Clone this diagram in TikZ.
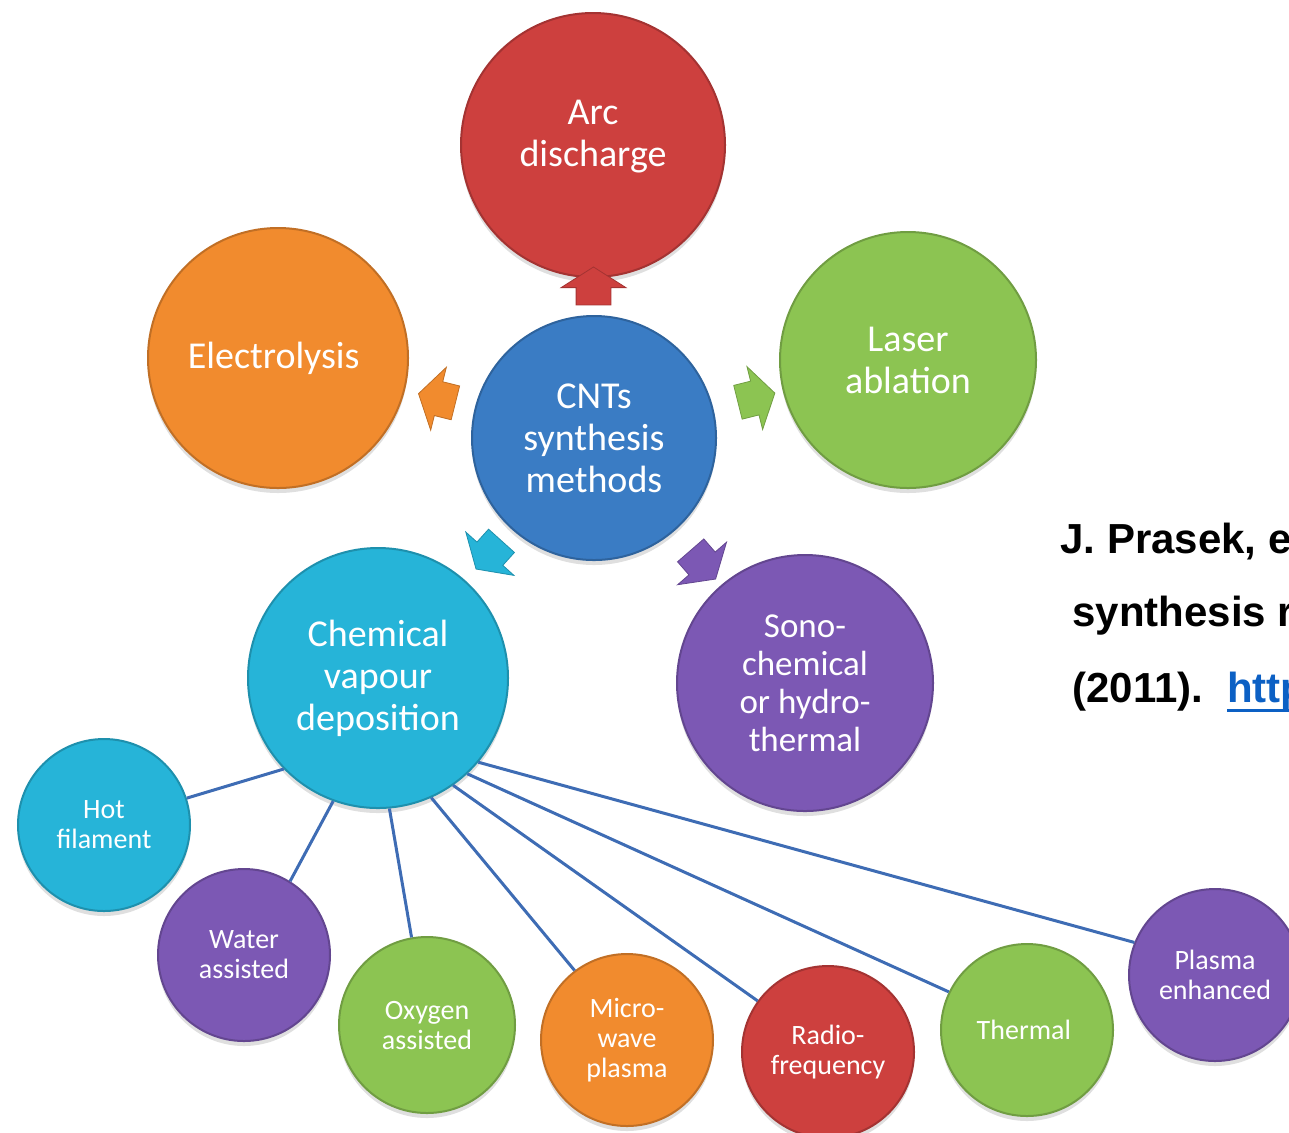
\documentclass[tikz,border=0pt]{standalone}
\usepackage{fontspec}
\setmainfont{Carlito}
\newfontfamily\citefont{Liberation Sans}
\usetikzlibrary{positioning,calc,shapes.arrows,shadows}

\definecolor{arcred}{RGB}{205,64,62}
\definecolor{elecorange}{RGB}{241,139,46}
\definecolor{lasergreen}{RGB}{140,196,82}
\definecolor{cntblue}{RGB}{58,124,196}
\definecolor{cvdcyan}{RGB}{38,180,216}
\definecolor{sonopurple}{RGB}{124,88,180}
\definecolor{wireblue}{RGB}{62,108,180}
\definecolor{linkblue}{RGB}{12,96,196}

\newlength\linkwd
\newcommand\weblink[1]{\settowidth\linkwd{#1}%
	\textcolor{linkblue}{\rlap{\rule[-5pt]{\linkwd}{1.5pt}}#1}}

\begin{document}
\begin{tikzpicture}[x=0.5pt, y=-0.5pt,
	disc/.style = { circle, draw=#1!80!black, fill=#1, line width=1pt,
	text=white, align=center, inner sep=0pt,
	drop shadow={opacity=0.25, shadow xshift=0pt, shadow yshift=-2.5pt} },
	bigdisc/.style = { disc=#1, minimum size=130pt,
	font=\fontsize{19}{21}\selectfont },
	smalldisc/.style = { disc=#1, minimum size=86pt,
	font=\fontsize{14}{15}\selectfont },
	fatarrow/.style = { single arrow, fill=#1, draw=#1!80!black,
	minimum height=19pt, minimum width=32pt, inner xsep=0pt,
	inner ysep=8.5pt, single arrow head extend=7.5pt,
	single arrow tip angle=115 },
	wire/.style = { wireblue, line width=1.5pt },
	cite/.style = { anchor=base west, inner sep=0pt,
	font=\citefont\bfseries\fontsize{21}{25}\selectfont } ]

  \useasboundingbox (0,0) rectangle (1289,1132);
  \clip (0,0) rectangle (1289,1132);

  \node [name=cnt, bigdisc=cntblue, minimum size=122pt] at (594,438)
	{ CNTs\\synthesis\\methods };
  \node [name=arc, bigdisc=arcred, minimum size=132pt] at (593,145)
	{ Arc\\discharge\\[-9pt] };
  \node [name=elec, bigdisc=elecorange] at (278,358) { Electrolysis };
  \node [name=laser, bigdisc=lasergreen, minimum size=128pt] at (908,360)
	{ Laser\\ablation };
  \node [name=cvd, bigdisc=cvdcyan] at (378,678)
	{ Chemical\\vapour\\deposition };
  \node [name=sono, bigdisc=sonopurple, minimum size=128pt,
	font=\fontsize{17.5}{19}\selectfont] at (805,683)
	{ Sono-\\chemical\\or hydro-\\thermal };

  \node [name=toarc, fatarrow=arcred, rotate=90]
	at ($(cnt)!0.5!(arc)$) {};
  \node [name=toelec, fatarrow=elecorange, rotate=166]
	at ($(cnt)!0.48!(elec)$) {};
  \node [name=tolaser, fatarrow=lasergreen, rotate=14]
	at ($(cnt)!0.5!(laser)$) {};
  \node [name=tocvd, fatarrow=cvdcyan, rotate=228]
	at ($(cnt)!0.47!(cvd)$) {};
  \node [name=tosono, fatarrow=sonopurple, rotate=311]
	at ($(cnt)!0.5!(sono)$) {};

  \node [name=hot, smalldisc=cvdcyan] at (104,825) { Hot\\filament };
  \node [name=water, smalldisc=sonopurple] at (244,955) { Water\\assisted };
  \node [name=oxy, smalldisc=lasergreen, minimum size=88pt] at (427,1025)
	{ Oxygen\\assisted };
  \node [name=micro, smalldisc=elecorange] at (627,1040)
	{ Micro-\\wave\\plasma };
  \node [name=radio, smalldisc=arcred] at (828,1052) { Radio-\\frequency };
  \node [name=thermal, smalldisc=lasergreen] at (1027,1030) { Thermal };
  \node [name=plasma, smalldisc=sonopurple] at (1215,975)
	{ Plasma\\enhanced };

  \draw [wire] (cvd.224) -- (hot.18);
  \draw [wire] (cvd.250) -- (water.58);
  \draw [wire] (cvd.275) -- (oxy.100);
  \draw [wire] (cvd.294) -- (micro.127);
  \draw [wire] (cvd.305) -- (radio.144);
  \draw [wire] (cvd.313) -- (thermal.154);
  \draw [wire] (cvd.320) -- (plasma.158);

  \node [name=cite1, cite] at (1060,553) {J. Prasek, e};
  \node [name=cite2, cite] at (1072,626) {synthesis r};
  \node [name=cite3, cite] at (1072,702)
	{(2011).\hspace{12pt}\weblink{http}};
\end{tikzpicture}
\end{document}
